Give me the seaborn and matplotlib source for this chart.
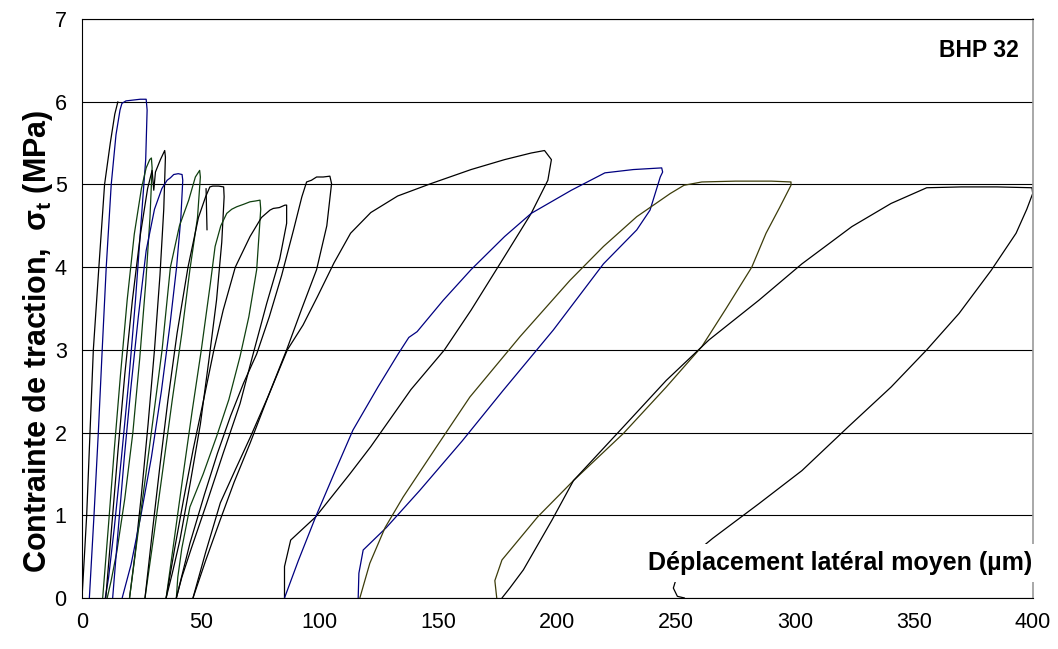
import pandas as pd
import seaborn as sns
import matplotlib.pyplot as plt

# cycles (x = lateral displacement in µm, y = stress in MPa)
c01_x = [0, 1.0, 1.97, 3.37, 4.77, 7.1, 9.5, 11.9, 13.8, 15.1]
c01_y = [0, 0.5, 1.0, 2.0, 3.0, 4.0, 5.0, 5.5, 5.85, 6.0]

c02_x = [3.1, 5.05, 6.87, 8.5, 10.2, 12.3, 14.3, 16.0, 16.8, 18.5, 21.5, 24.5, 27.0, 27.4,
         26.8, 25.0, 22.5, 19.6, 16.6, 13.6, 11.2, 9.8]
c02_y = [0, 1.0, 2.0, 3.0, 4.0, 5.0, 5.6, 5.9, 5.98, 6.01, 6.02, 6.03, 6.03, 5.9,
         5.3, 4.6, 3.6, 2.6, 1.7, 0.85, 0.25, 0]

c03_x = [8.7, 11.2, 13.6, 16.2, 19.0, 22.0, 25.0, 27.0, 28.5, 29.2, 29.5, 28.6, 26.8, 24.3,
         21.4, 18.0, 14.6, 12.2, 10.6]
c03_y = [0, 0.9, 1.8, 2.7, 3.6, 4.4, 4.95, 5.2, 5.3, 5.32, 5.2, 4.6, 3.8, 2.9,
         2.0, 1.2, 0.55, 0.2, 0]

c04_x = [10.0, 12.6, 15.2, 18.0, 21.2, 24.6, 27.6, 29.5, 30.2, 30.9, 33.0, 34.8, 35.1, 34.4,
         32.8, 30.5, 27.8, 25.0, 22.4, 20.0]
c04_y = [0, 0.9, 1.8, 2.7, 3.6, 4.4, 4.95, 5.17, 4.93, 5.15, 5.3, 5.41, 5.33, 4.7,
         3.9, 3.0, 2.1, 1.25, 0.55, 0]

c05_x = [12.9, 15.3, 17.8, 20.6, 23.7, 27.0, 30.5, 33.6, 35.8, 37.2, 38.6, 40.5, 42.1, 42.4,
         41.6, 39.8, 37.0, 33.4, 29.2, 24.8, 20.6, 16.9]
c05_y = [0, 0.85, 1.7, 2.55, 3.4, 4.2, 4.7, 4.95, 5.05, 5.08, 5.12, 5.13, 5.12, 5.05,
         4.6, 4.0, 3.3, 2.5, 1.7, 1.0, 0.4, 0]

c06_x = [20.0, 23.4, 26.9, 30.3, 33.7, 37.2, 41.0, 44.9, 47.7, 49.5, 49.8, 48.6, 45.4, 42.0,
         38.0, 34.0, 30.2, 26.5]
c06_y = [0, 0.75, 1.5, 2.25, 3.0, 4.0, 4.5, 4.81, 5.09, 5.17, 5.09, 4.6, 3.97, 3.2,
         2.4, 1.55, 0.75, 0]

c07_x = [26.5, 29.6, 32.8, 36.2, 40.0, 44.6, 49.0, 52.0, 53.8, 55.0, 57.5, 59.6, 59.8, 58.8,
         56.6, 53.5, 49.8, 45.6, 41.2, 38.0, 35.4]
c07_y = [0, 0.8, 1.6, 2.4, 3.2, 4.0, 4.6, 4.85, 4.97, 4.98, 4.98, 4.97, 4.85, 4.3,
         3.6, 2.9, 2.1, 1.4, 0.7, 0.3, 0]
c07b_x = [52.2, 52.6]
c07b_y = [4.95, 4.45]

c08_x = [35.4, 39.0, 42.6, 46.3, 50.2, 54.0, 56.0, 58.4, 60.9, 63.0, 65.1, 68.0, 70.7, 73.0,
         74.9, 75.2, 73.5, 70.2, 66.5, 61.8, 56.6, 51.0, 45.4, 42.0, 40.3, 39.7]
c08_y = [0, 0.75, 1.5, 2.25, 3.0, 3.8, 4.25, 4.5, 4.65, 4.7, 4.73, 4.76, 4.79, 4.8,
         4.81, 4.7, 3.97, 3.4, 2.92, 2.4, 1.95, 1.5, 1.1, 0.6, 0.25, 0]

c09_x = [35.4, 39.0, 42.8, 46.8, 51.2, 55.5, 59.4, 64.5, 70.7, 75.5, 79.1, 80.5, 83.0, 85.4,
         86.1, 86.1, 83.2, 77.7, 72.0, 66.5, 59.4, 52.4, 46.0, 42.0, 39.7]
c09_y = [0, 0.6, 1.2, 1.8, 2.4, 3.0, 3.48, 4.0, 4.37, 4.6, 4.69, 4.71, 4.72, 4.75,
         4.75, 4.53, 4.1, 3.56, 2.95, 2.35, 1.75, 1.14, 0.6, 0.25, 0]

c10_x = [39.7, 45.4, 51.5, 57.0, 62.5, 68.0, 73.5, 78.8, 84.0, 89.0, 92.5, 94.5, 96.5, 98.7,
         101.5, 104.3, 105.0, 103.0, 98.7, 92.5, 86.1, 78.5, 70.7, 64.0, 58.1, 52.0, 46.7]
c10_y = [0, 0.66, 1.25, 1.75, 2.2, 2.6, 2.95, 3.4, 3.9, 4.45, 4.85, 5.03, 5.05, 5.09,
         5.09, 5.1, 5.01, 4.5, 3.97, 3.5, 3.0, 2.45, 1.87, 1.4, 0.94, 0.45, 0]

c11_x = [46.7, 52.0, 58.2, 64.5, 70.9, 78.5, 86.4, 93.0, 99.0, 106.0, 113.0, 121.5, 132.8,
         146.8, 163.7, 177.8, 189.0, 194.6, 197.5, 196.0, 189.0, 177.8, 163.7, 152.5, 138.4,
         121.5, 112.7, 98.3, 87.8, 85.2, 85.2]
c11_y = [0, 0.55, 1.15, 1.55, 1.95, 2.45, 3.0, 3.3, 3.64, 4.05, 4.41, 4.66, 4.86,
         5.01, 5.18, 5.30, 5.38, 5.41, 5.3, 5.05, 4.65, 4.13, 3.48, 3.0, 2.52,
         1.83, 1.5, 0.98, 0.70, 0.38, 0]

c12_x = [85.2, 91.0, 98.3, 106.0, 114.0, 124.5, 133.0, 137.5, 141.0, 152.0, 163.7, 177.8,
         189.0, 205.9, 220.0, 232.0, 243.9, 244.3, 243.3, 239.0, 233.4, 219.4, 198.3, 177.2,
         160.0, 142.1, 128.0, 118.3, 116.5, 116.2]
c12_y = [0, 0.45, 0.98, 1.5, 2.03, 2.55, 2.95, 3.15, 3.22, 3.6, 3.97, 4.37,
         4.65, 4.93, 5.14, 5.18, 5.2, 5.15, 5.09, 4.69, 4.45, 4.04, 3.24, 2.51,
         1.9, 1.30, 0.85, 0.58, 0.3, 0]

c13_x = [116.9, 121.1, 127.5, 135.1, 149.2, 163.2, 184.3, 205.3, 219.4, 233.4, 247.5, 253.3,
         260.8, 275.0, 290.0, 298.3, 298.3, 293.5, 287.8, 281.8, 271.0, 260.8, 245.8, 227.8,
         206.8, 191.7, 176.7, 173.7, 174.5]
c13_y = [0, 0.42, 0.85, 1.22, 1.83, 2.43, 3.16, 3.84, 4.25, 4.61, 4.89, 4.99,
         5.03, 5.04, 5.04, 5.03, 4.99, 4.72, 4.41, 4.0, 3.5, 3.04, 2.55, 1.99,
         1.42, 0.98, 0.46, 0.21, 0]

c14_x = [176.7, 180.0, 185.7, 197.7, 206.8, 227.8, 245.8, 263.8, 284.8, 302.9, 323.9, 340.4,
         355.4, 370.0, 385.0, 399.7, 400.0, 397.5, 393.0, 382.5, 369.0, 355.4, 340.4, 322.4,
         302.9, 284.8, 265.3, 256.0, 250.5, 248.8, 250.5, 253.5]
c14_y = [0, 0.12, 0.34, 0.94, 1.42, 2.07, 2.63, 3.12, 3.6, 4.04, 4.49, 4.77,
         4.96, 4.97, 4.97, 4.96, 4.89, 4.7, 4.41, 3.96, 3.44, 3.0, 2.55, 2.07,
         1.54, 1.14, 0.72, 0.5, 0.28, 0.12, 0.02, 0]

cycles = {
    "c01": (c01_x, c01_y), "c02": (c02_x, c02_y), "c03": (c03_x, c03_y),
    "c04": (c04_x, c04_y), "c05": (c05_x, c05_y), "c06": (c06_x, c06_y),
    "c07": (c07_x, c07_y), "c07b": (c07b_x, c07b_y), "c08": (c08_x, c08_y),
    "c09": (c09_x, c09_y), "c10": (c10_x, c10_y), "c11": (c11_x, c11_y),
    "c12": (c12_x, c12_y), "c13": (c13_x, c13_y), "c14": (c14_x, c14_y),
}

black, blue, green, olive = "#000000", "#000080", "#0f3f0f", "#3c3c0a"
palette = {
    "c01": black, "c02": blue, "c03": green, "c04": black, "c05": blue,
    "c06": green, "c07": black, "c07b": black, "c08": green, "c09": black,
    "c10": black, "c11": black, "c12": blue, "c13": olive, "c14": black,
}

frames = []
for name, (xs, ys) in cycles.items():
    frames.append(pd.DataFrame({"x": xs, "y": ys, "cycle": name}))
df = pd.concat(frames, ignore_index=True)

sns.set_theme(style="white")
plt.rcParams["font.family"] = ["Liberation Sans", "DejaVu Sans"]
plt.rcParams["mathtext.fontset"] = "custom"
plt.rcParams["mathtext.rm"] = "Liberation Sans"
plt.rcParams["mathtext.bf"] = "Liberation Sans:bold"

fig = plt.figure(figsize=(10.58, 6.49), dpi=100)
ax = fig.add_axes([0.0775, 0.0786, 0.8986, 0.8921])

sns.lineplot(data=df, x="x", y="y", hue="cycle", palette=palette, sort=False,
             estimator=None, legend=False, lw=0.9, ax=ax)

ax.set_xlim(0, 400)
ax.set_ylim(0, 7)
ax.set_xticks(range(0, 401, 50))
ax.set_yticks(range(0, 8))
ax.grid(axis="y", color="black", lw=0.8)
ax.grid(axis="x", visible=False)
ax.tick_params(axis="both", direction="out", length=5, width=0.8, color="black",
               labelsize=15.5, labelcolor="black")
ax.tick_params(axis="y", pad=6)
ax.tick_params(axis="x", pad=5)
ax.set_xlabel("")
ax.set_ylabel("Contrainte de traction,  σ$_\\mathbf{t}$ (MPa)", fontsize=22,
              fontweight="bold", color="black")
ax.yaxis.set_label_coords(-0.028, 0.444)

for side in ["left", "bottom", "top"]:
    ax.spines[side].set_color("black")
    ax.spines[side].set_linewidth(0.8)
ax.spines["right"].set_color("#999999")
ax.spines["right"].set_linewidth(1.2)

ax.text(0.985, 0.945, "BHP 32", transform=ax.transAxes, ha="right", va="center",
        fontsize=16.5, fontweight="bold", color="black")
ax.text(0.9995, 0.06, "Déplacement latéral moyen (µm)", transform=ax.transAxes,
        ha="right", va="center", fontsize=18, fontweight="bold", color="black",
        bbox=dict(facecolor="white", edgecolor="none", pad=5), zorder=5)

fig.savefig("out.png", dpi=100)
